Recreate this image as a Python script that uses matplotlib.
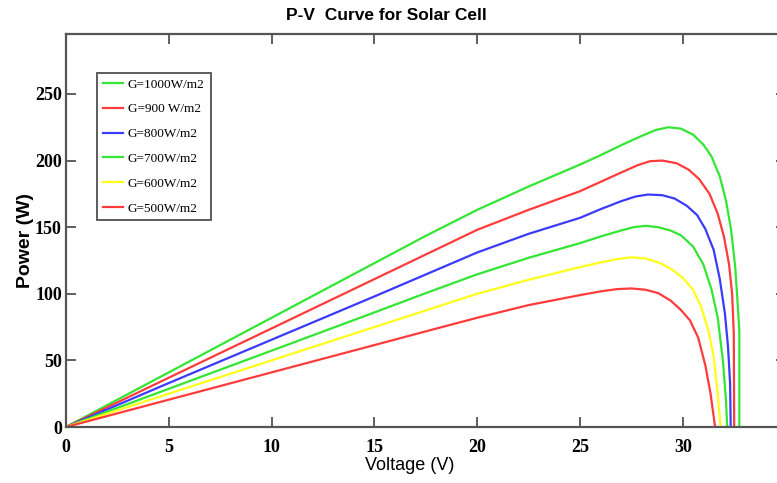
import matplotlib.pyplot as plt

# P-V curves for six irradiance levels (voltage in V, power in W)
labels = ["G=1000W/m2", "G=900 W/m2", "G=800W/m2", "G=700W/m2", "G=600W/m2", "G=500W/m2"]
colors = ["#33e633", "#ff3b3b", "#3b3bff", "#33e633", "#ffff1a", "#ff3b3b"]

v_1000 = [0, 5, 10, 15, 17.5, 20, 22.5, 25, 26, 27, 28, 28.7, 29.3, 29.9, 30.5, 31.0, 31.4, 31.8, 32.1, 32.35, 32.55, 32.68, 32.75, 32.75]
p_1000 = [0, 41, 82, 123, 143.5, 163, 180.5, 197, 204, 211.5, 218.5, 223, 225, 224, 219.5, 212, 203, 188, 170, 148, 120, 90, 72, 0]

v_900 = [0, 5, 10, 15, 17.5, 20, 22.5, 25, 26, 27, 27.8, 28.4, 29.0, 29.7, 30.3, 30.8, 31.3, 31.7, 32.0, 32.25, 32.4, 32.48, 32.5]
p_900 = [0, 37, 74, 111, 129.5, 148, 163, 177, 184, 191, 196.5, 199.5, 200, 198, 193, 186, 175, 160, 143, 122, 100, 70, 0]

v_800 = [0, 5, 10, 15, 17.5, 20, 22.5, 25, 26, 27, 27.7, 28.3, 29.0, 29.6, 30.2, 30.7, 31.1, 31.5, 31.8, 32.05, 32.2, 32.3, 32.33]
p_800 = [0, 33, 65.5, 98, 114.5, 131, 145, 157, 163.5, 169.5, 173, 174.5, 174, 171.5, 166, 159, 148.5, 133, 111, 85, 60, 33, 0]

v_700 = [0, 5, 10, 15, 17.5, 20, 22.5, 25, 26, 27, 27.6, 28.2, 28.8, 29.4, 29.9, 30.5, 31.0, 31.4, 31.7, 31.95, 32.1, 32.16]
p_700 = [0, 28.7, 57.3, 86, 100.5, 114.6, 127, 138, 143, 147.5, 150, 151, 150, 147.5, 144, 135.5, 122, 103, 82, 50, 20, 0]

v_600 = [0, 5, 10, 15, 17.5, 20, 22.5, 25, 26, 26.8, 27.5, 28.2, 28.9, 29.5, 30.0, 30.5, 30.9, 31.25, 31.5, 31.7, 31.84]
p_600 = [0, 25, 50, 75, 87.5, 100, 110.5, 120, 123.5, 126, 127.4, 126.5, 123, 118, 112, 103, 90, 72, 53, 25, 0]

v_500 = [0, 5, 10, 15, 17.5, 20, 22.5, 25, 26, 26.8, 27.5, 28.2, 28.8, 29.4, 29.9, 30.35, 30.75, 31.1, 31.35, 31.5, 31.57]
p_500 = [0, 20.5, 41, 61.5, 71.8, 82, 91.5, 99, 101.8, 103.5, 104, 103, 100.5, 95, 88, 80, 67, 46, 25, 8, 0]

voltages = [v_1000, v_900, v_800, v_700, v_600, v_500]
powers = [p_1000, p_900, p_800, p_700, p_600, p_500]

x_ticks = [0, 5, 10, 15, 20, 25, 30]
y_ticks = [0, 50, 100, 150, 200, 250]

fig = plt.figure(figsize=(7.77, 4.83), dpi=100)
ax = fig.add_axes([66 / 777, 56 / 483, 719.6 / 777, 393 / 483])

for v, p, c, lab in zip(voltages, powers, colors, labels):
    ax.plot(v, p, color=c, linewidth=1.6, label=lab)

ax.set_xlim(0, 35)
ax.set_ylim(0, 295)
ax.set_xticks(x_ticks)
ax.set_yticks(y_ticks)

tick_font = {"family": "Liberation Serif", "weight": "bold", "size": 13}
ax.set_xticklabels([str(t) for t in x_ticks], fontdict=tick_font)
ax.set_yticklabels([str(t) for t in y_ticks], fontdict=tick_font)
ax.tick_params(direction="in", top=True, right=True, length=7, width=1.2, color="#444444")
ax.tick_params(axis="x", pad=9)
ax.tick_params(axis="y", pad=3)

for s in ax.spines.values():
    s.set_color("#555555")
    s.set_linewidth(1.6)

leg = ax.legend(loc="upper left", bbox_to_anchor=(0.043, 0.902), prop={"family": "Liberation Serif", "size": 9.5},
                frameon=True, fancybox=False, edgecolor="#333333", handlelength=1.5,
                labelspacing=0.95, borderpad=0.45, handletextpad=0.4, borderaxespad=0)
leg.get_frame().set_linewidth(1.4)

fig.text(386 / 777, 1 - 16 / 483, "P-V  Curve for Solar Cell", ha="center", va="center",
         family="Liberation Sans", weight="bold", size=12.5)
fig.text(410 / 777, 1 - 466 / 483, "Voltage (V)", ha="center", va="center",
         family="Liberation Sans", size=13)
fig.text(25 / 777, 1 - 240 / 483, "Power (W)", ha="center", va="center", rotation=90,
         family="Liberation Sans", weight="bold", size=14)

plt.savefig("out.png", dpi=100)
